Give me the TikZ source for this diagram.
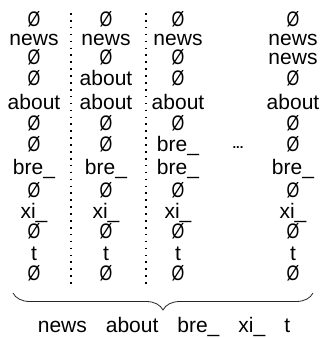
\documentclass[tikz,border=0pt]{standalone}
\usepackage{fontspec}
\setmainfont{Liberation Sans}
\usepackage{graphicx}
\usetikzlibrary{math, decorations.pathreplacing}
\newcommand{\emptyslot}{\scalebox{0.78}[1]{Ø}}

\begin{document}
\begin{tikzpicture}[x=1pt,y=-1pt,
  tok/.style={anchor=base, inner sep=0pt, font=\fontsize{21}{21}\selectfont},
  sep/.style={line width=1.6pt, dash pattern=on 1.6pt off 5.3pt}]
\tikzmath{
\xa=34; \xb=106; \xc=178; \xd=293;
\ytop=13; \ybot=286;
}
\useasboundingbox (0,0) rectangle (327,338);

%columns
\foreach \i/\y/\wordA/\wordB/\wordC/\wordD in {
  1/26/\emptyslot/\emptyslot/\emptyslot/\emptyslot,
  2/45/news/news/news/news,
  3/64/\emptyslot/\emptyslot/\emptyslot/news,
  4/85/\emptyslot/about/\emptyslot/\emptyslot,
  5/109/about/about/about/about,
  6/130/\emptyslot/\emptyslot/\emptyslot/\emptyslot,
  7/151/\emptyslot/\emptyslot/bre\_/\emptyslot,
  8/174/bre\_/bre\_/bre\_/bre\_,
  9/197/\emptyslot/\emptyslot/\emptyslot/\emptyslot,
  10/218/xi\_/xi\_/xi\_/xi\_,
  11/238/\emptyslot/\emptyslot/\emptyslot/\emptyslot,
  12/260/t/t/t/t,
  13/280/\emptyslot/\emptyslot/\emptyslot/\emptyslot}{
  \node[tok] (a\i) at (\xa,\y) {\wordA};
  \node[tok] (b\i) at (\xb,\y) {\wordB};
  \node[tok] (c\i) at (\xc,\y) {\wordC};
  \node[tok] (d\i) at (\xd,\y) {\wordD};
}

%separators
\draw[sep] (71,\ytop) -- (71,\ybot);
\draw[sep] (146,\ytop) -- (146,\ybot);

\node[inner sep=0pt, font=\fontsize{13}{13}\bfseries\selectfont] (gap) at (238,148) {...};

%brace
\coordinate (bl) at (13,293);
\coordinate (br) at (313,293);
\draw[decorate, decoration={brace, mirror, amplitude=17pt}, line width=0.8pt, black!85] (bl) -- (br);
\node[tok] (seq) at (164,332) {news\hspace{19pt}about\hspace{19pt}bre\_\hspace{19pt}xi\_\hspace{19pt}t};
\end{tikzpicture}
\end{document}
